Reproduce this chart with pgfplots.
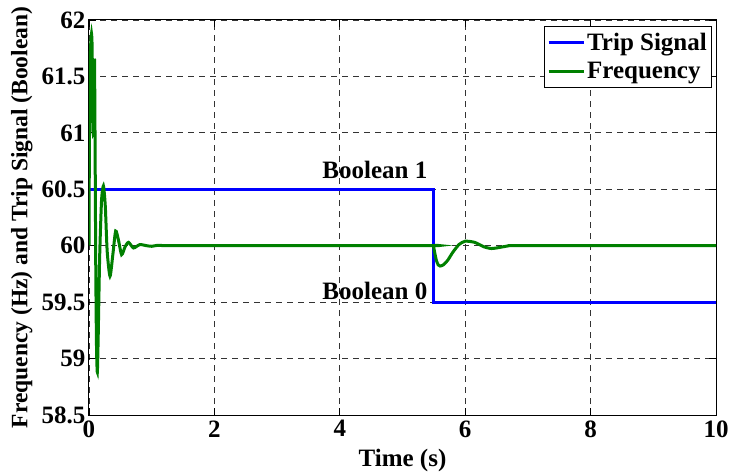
\documentclass[border=0pt]{standalone}
\usepackage{fontspec}
\setmainfont{Liberation Serif}
\usepackage{pgfplots}
\pgfplotsset{compat=1.18}
\definecolor{mblue}{RGB}{0,0,255}
\definecolor{mgreen}{RGB}{0,128,0}
\begin{document}
\begin{tikzpicture}
\useasboundingbox (-89pt,-57pt) rectangle (641pt,415pt);
\begin{axis}[
  at={(0,0)}, anchor=south west,
  scale only axis, width=627pt, height=395pt,
  xmin=0, xmax=10, ymin=58.5, ymax=62,
  xtick={0,2,4,6,8,10},
  ytick={58.5,59,59.5,60,60.5,61,61.5,62},
  font=\fontsize{25}{29}\selectfont\bfseries,
  /pgf/number format/assume math mode=true,
  tick align=inside, xtick pos=both, ytick pos=both,
  major tick length=7pt,
  tick style={black, line width=0.8pt},
  axis line style={black, line width=1pt},
  grid=major,
  major grid style={gray!40!black, line width=0.8pt, dash pattern=on 6pt off 5pt},
  xticklabel style={yshift=-2pt},
  xlabel={Time (s)},
  ylabel={Frequency (Hz) and Trip Signal (Boolean)},
  xlabel style={at={(axis description cs:0.5,-0.114)}, anchor=center},
  ylabel style={at={(axis description cs:-0.107,0.5)}, anchor=center, rotate=0,
    font=\fontsize{23.5}{27}\selectfont\bfseries},
  legend style={at={(0.994,0.985)}, anchor=north east, draw=black, line width=0.8pt,
    font=\fontsize{25}{29}\selectfont\bfseries, inner xsep=3pt, inner ysep=5pt,
    row sep=6pt, nodes={inner sep=2pt}},
  legend cell align=left,
  legend image code/.code={\draw[#1, line width=3pt] (0pt,0pt) -- (35pt,0pt);},
]
\addplot[mblue, line width=3pt, sharp plot] coordinates {
(0,60.5) (5.49,60.5) (5.49,59.5) (10,59.5)};
\addlegendentry{Trip Signal}
\addplot[mgreen, line width=3pt, smooth, tension=0.4] coordinates {
(0,60) (0.004,60.6) (0.012,61.3) (0.025,61.75) (0.04,61.88) (0.05,61.75)
(0.06,61.2) (0.07,61.0) (0.08,61.4) (0.088,61.65) (0.097,60.9)
(0.108,59.8) (0.12,59.1) (0.133,58.88) (0.147,59.2) (0.17,59.9)
(0.2,60.4) (0.23,60.53) (0.26,60.35) (0.29,59.95) (0.335,59.73)
(0.38,59.92) (0.425,60.13) (0.47,60.05) (0.52,59.92) (0.575,59.99)
(0.63,60.03) (0.71,59.98) (0.81,60.01) (0.92,60.0) (1.0,59.995)
(1.1,60.004) (1.2,60) (1.25,60) (3,60) (5.45,60) (5.49,60) (5.51,59.95)
(5.54,59.87) (5.57,59.83) (5.6,59.82) (5.65,59.83)
(5.72,59.87) (5.8,59.94) (5.9,60.01) (6.0,60.04) (6.15,60.03)
(6.3,59.99) (6.42,59.975) (6.55,59.985) (6.7,60) (6.75,60) (8,60) (10,60)};
\addlegendentry{Frequency}
\node[font=\fontsize{25}{29}\selectfont\bfseries] at (axis cs:4.56,60.67) {Boolean 1};
\node[font=\fontsize{25}{29}\selectfont\bfseries] at (axis cs:4.56,59.6) {Boolean 0};
\end{axis}
\end{tikzpicture}
\end{document}
